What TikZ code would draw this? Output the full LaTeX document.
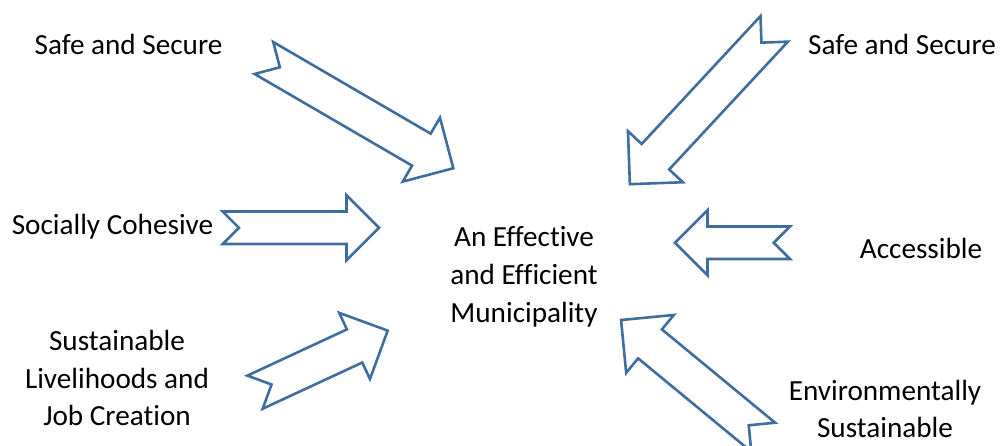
\documentclass[tikz,border=0pt]{standalone}
\usepackage{fontspec}
\setmainfont{Carlito}[Ligatures={NoCommon}]
\usepackage{xcolor}
\usepackage{tikz}
\usetikzlibrary{positioning}

\definecolor{arrowblue}{RGB}{63,110,158}

\tikzset{
  arrowline/.style={draw=arrowblue, line width=2.6pt, fill=white},
  lbl/.style={align=center, inner sep=0pt, font=\fontsize{29.2}{37.8}\selectfont},
  pics/notched/.style 2 args={code={
    \draw[arrowline] (0,#2/4) -- ({#1-#2/2},#2/4) -- ({#1-#2/2},#2/2) -- (#1,0)
      -- ({#1-#2/2},-#2/2) -- ({#1-#2/2},-#2/4) -- (0,-#2/4) -- (#2/4,0) -- cycle;
  }}
}

\begin{document}
\begin{tikzpicture}[x=1pt, y=1pt]
            \useasboundingbox (0,0) rectangle (1000,446);

            % arrows pointing in
            \pic[rotate=-30.2]  at (263.9,388)   {notched={219.2}{74}};
            \pic[rotate=-132.9] at (774.2,417.1) {notched={212}{75}};
            \pic                at (222.7,218.2) {notched={156.3}{65}};
            \pic[rotate=24.9]   at (255,53.8)    {notched={146.3}{73}};
            \pic[rotate=180]    at (790,203.2)   {notched={115}{65}};
            \pic[rotate=140.5]  at (763.2,8.8)   {notched={184.2}{75}};

            % labels
            \node[lbl] (muni)     at (524,169)   {An Effective\\and Efficient\\Municipality};
            \node[lbl] (safel)    at (128.5,402) {Safe and Secure};
            \node[lbl] (safer)    at (902,402)   {Safe and Secure};
            \node[lbl] (cohesive) at (112.5,219) {Socially Cohesive};
            \node[lbl] (liveli)   at (117,68)    {Sustainable\\Livelihoods and\\Job Creation};
            \node[lbl] (access)   at (921,198)   {Accessible};
            \node[lbl] (environ)  at (885,37)    {Environmentally\\Sustainable};

\end{tikzpicture}
\end{document}
